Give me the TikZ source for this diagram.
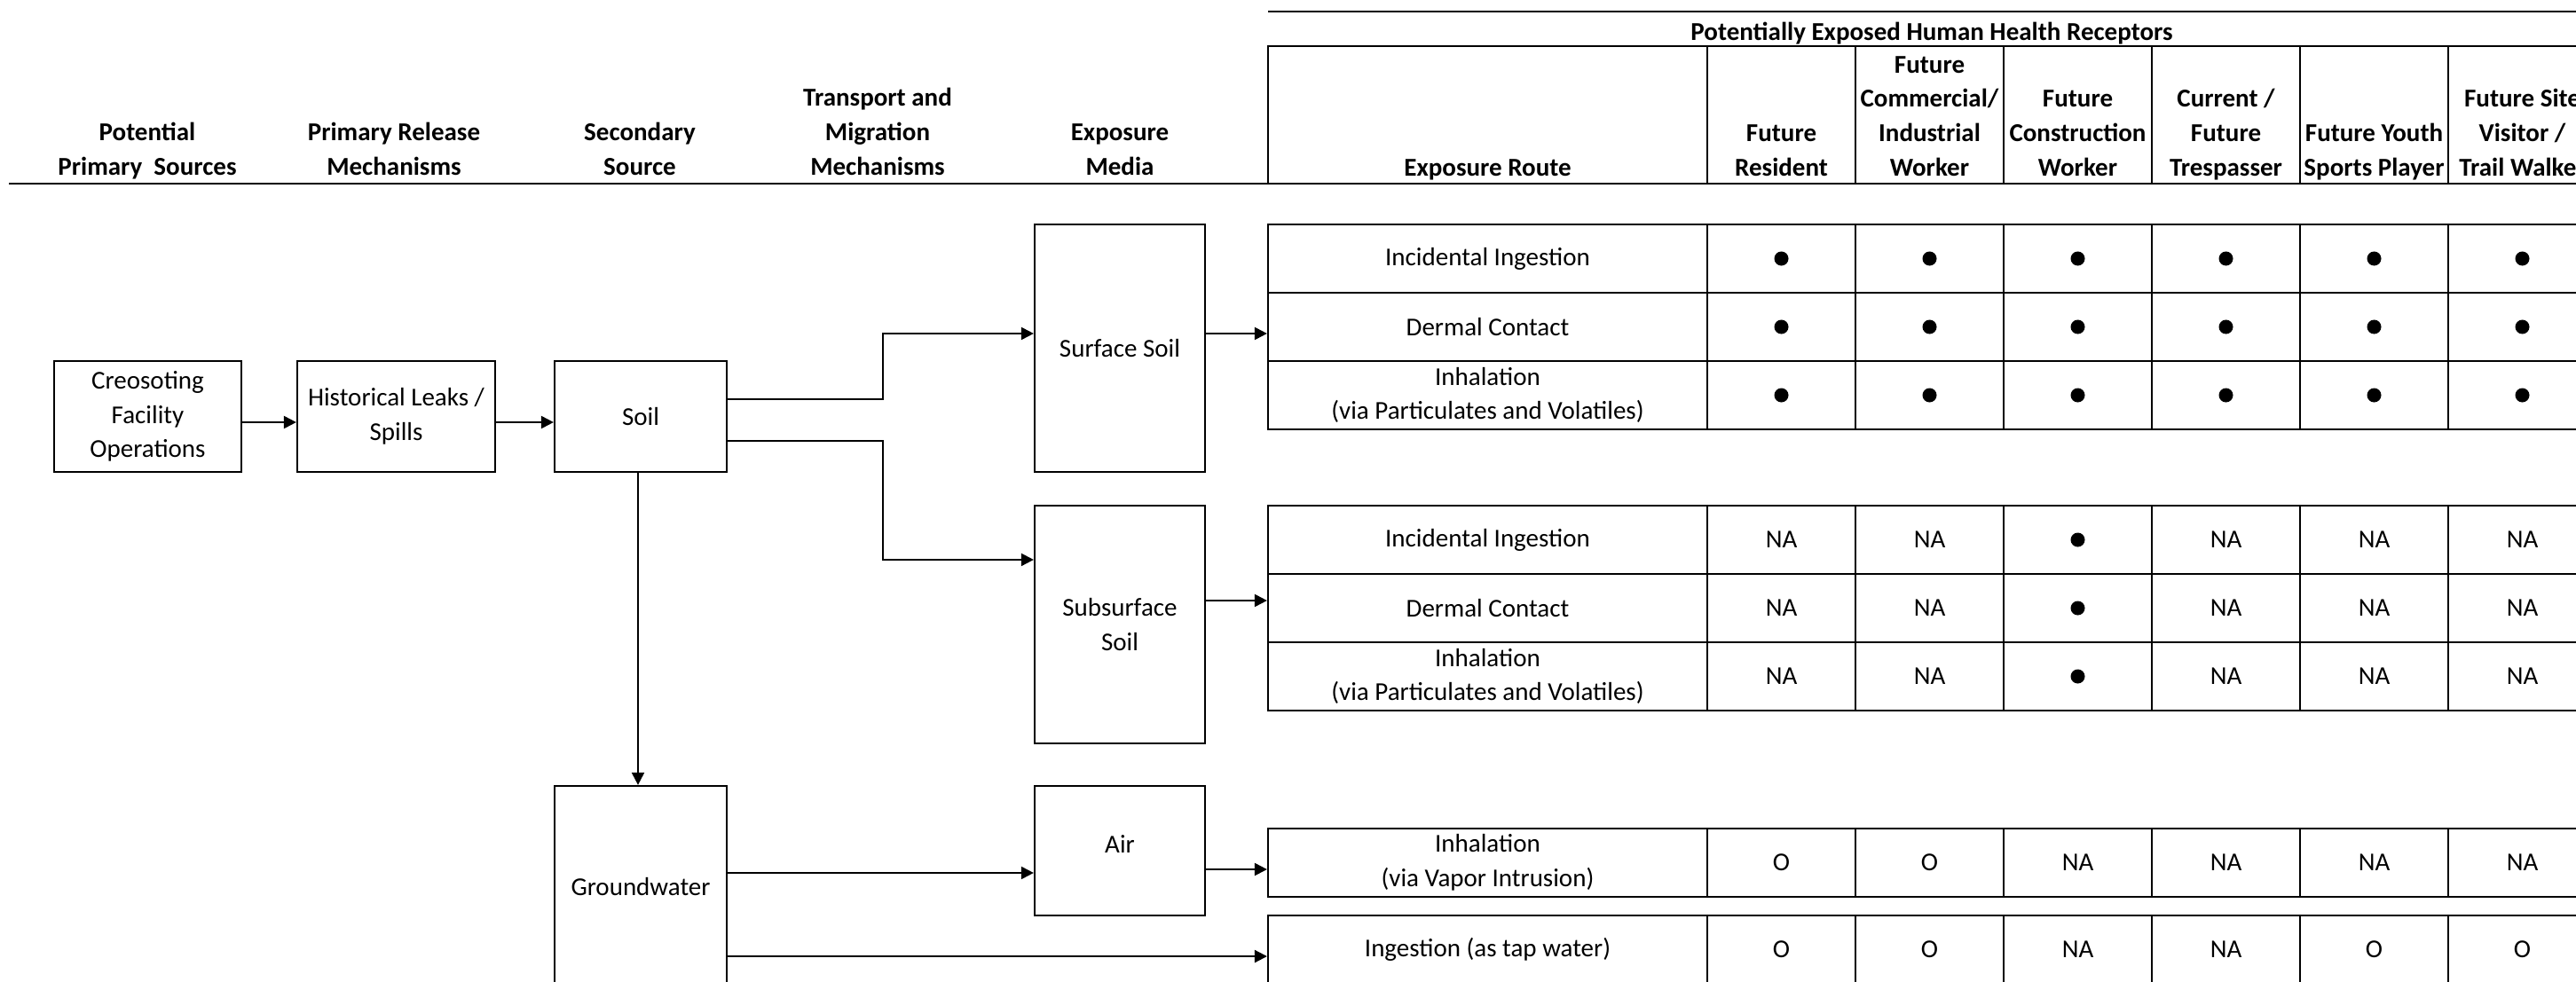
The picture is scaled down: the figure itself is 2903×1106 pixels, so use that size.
\documentclass[tikz,border=0pt]{standalone}
\usepackage{fontspec}
\setmainfont{Carlito}
\usetikzlibrary{arrows.meta}

% stacked header text whose baseline is that of its last line
\newcommand\hdrlines[1]{\begin{tabular}[b]{@{}c@{}}#1\end{tabular}}
% solid marker for a complete exposure pathway
\newcommand\fulldot{\tikz\fill circle[radius=0.08cm];}
% one exposure-route row: name, y, route text, six receptor entries
\newcommand\exprow[4]{%
  \node[routecell] (#1) at (1676.5,#2) {#3};
  \foreach \v [count=\k] in {#4}
    {\node[valcell] (#1-\k) at ({1924+167*(\k-0.5)},#2) {\v};}%
}

\begin{document}
\begin{tikzpicture}[x=0.01cm,y=-0.01cm,
  font=\fontsize{8.25}{10.95}\selectfont,
  box/.style={draw, line width=0.6pt, align=center, inner sep=0pt},
  cell/.style={draw, line width=0.55pt, align=center, inner sep=0pt, minimum height=0.77cm},
  routecell/.style={cell, minimum width=4.95cm},
  valcell/.style={cell, minimum width=1.67cm},
  hcell/.style={draw, line width=0.55pt, inner sep=0pt, minimum height=1.55cm},
  hdr/.style={font=\fontsize{8.25}{10.95}\selectfont\bfseries, anchor=base, inner sep=0pt},
  arr/.style={line width=0.6pt, -{Triangle[length=4pt,width=4pt]}},
  rule/.style={line width=0.6pt}]
\useasboundingbox (0,0) rectangle (2903,1106);
\clip (0,0) rectangle (2903,1106);

% ---------- receptor header ----------
\draw[rule] (1429,13) -- (2930,13);
\node[hdr] (rechead) at (2177,45) {Potentially Exposed Human Health Receptors};
\draw[rule] (1429,52) -- (2930,52);
\node[hcell, minimum width=4.95cm] (hc0) at (1676.5,129.5) {};
\foreach \k in {1,...,6}
  {\node[hcell, minimum width=1.67cm] (hc\k) at ({1924+167*(\k-0.5)},129.5) {};}
\draw[line width=0.85pt] (10,207) -- (2930,207);

% column headings
\node[hdr] (h1) at (166,197) {\hdrlines{Potential\\Primary\ \ Sources}};
\node[hdr] (h2) at (444,197) {\hdrlines{Primary Release\\Mechanisms}};
\node[hdr] (h3) at (721,197) {\hdrlines{Secondary\\Source}};
\node[hdr] (h4) at (989,197) {\hdrlines{Transport and\\Migration\\Mechanisms}};
\node[hdr] (h5) at (1262,197) {\hdrlines{Exposure\\Media}};
\node[hdr] (t0) at ([yshift=0.1cm]hc0.south) {Exposure Route};
\node[hdr] (t1) at ([yshift=0.1cm]hc1.south) {\hdrlines{Future\\Resident}};
\node[hdr] (t2) at ([yshift=0.1cm]hc2.south) {\hdrlines{Future\\Commercial/\\Industrial\\Worker}};
\node[hdr] (t3) at ([yshift=0.1cm]hc3.south) {\hdrlines{Future\\Construction\\Worker}};
\node[hdr] (t4) at ([yshift=0.1cm]hc4.south) {\hdrlines{Current /\\Future\\Trespasser}};
\node[hdr] (t5) at ([yshift=0.1cm]hc5.south) {\hdrlines{Future Youth\\Sports Player}};
\node[hdr] (t6) at ([yshift=0.1cm]hc6.south) {\hdrlines{Future Site\\Visitor /\\Trail Walker}};

% ---------- sources and media ----------
\node[box, minimum width=2.11cm, minimum height=1.25cm] (creo) at (166.5,469.5) {Creosoting\\Facility\\Operations};
\node[box, minimum width=2.23cm, minimum height=1.25cm] (hist) at (446.5,469.5) {Historical Leaks /\\Spills};
\node[box, minimum width=1.94cm, minimum height=1.25cm] (soil) at (722,469.5) {Soil};
\node[box, minimum width=1.92cm, minimum height=2.79cm] (surf) at (1262,392.5) {Surface Soil};
\node[box, minimum width=1.92cm, minimum height=2.68cm] (subs) at (1262,704) {Subsurface\\Soil};
\node[box, minimum width=1.94cm, minimum height=2.28cm] (gw) at (722,1000) {Groundwater};
\node[box, minimum width=1.92cm, minimum height=1.46cm] (air) at (1262,959) {\raisebox{0.14cm}{Air}};

% ---------- exposure routes ----------
\exprow{b1r1}{291.5}{Incidental Ingestion}{\fulldot,\fulldot,\fulldot,\fulldot,\fulldot,\fulldot}
\exprow{b1r2}{368.5}{Dermal Contact}{\fulldot,\fulldot,\fulldot,\fulldot,\fulldot,\fulldot}
\exprow{b1r3}{445.5}{Inhalation\\(via Particulates and Volatiles)}{\fulldot,\fulldot,\fulldot,\fulldot,\fulldot,\fulldot}

\exprow{b2r1}{608.5}{Incidental Ingestion}{NA,NA,\fulldot,NA,NA,NA}
\exprow{b2r2}{685.5}{Dermal Contact}{NA,NA,\fulldot,NA,NA,NA}
\exprow{b2r3}{762.5}{Inhalation\\(via Particulates and Volatiles)}{NA,NA,\fulldot,NA,NA,NA}

\exprow{b3r1}{972.5}{Inhalation\\(via Vapor Intrusion)}{O,O,NA,NA,NA,NA}

\exprow{b4r1}{1070.5}{Ingestion (as tap water)}{O,O,NA,NA,O,O}

% ---------- connectors ----------
\draw[arr] ([yshift=-0.065cm]creo.east) -- ([yshift=-0.065cm]hist.west);
\draw[arr] ([yshift=-0.065cm]hist.east) -- ([yshift=-0.065cm]soil.west);
\draw[arr] ([yshift=0.195cm]soil.east) -- ++(175,0) |- ([yshift=0.165cm]surf.west);
\draw[arr] ([yshift=-0.275cm]soil.east) -- ++(175,0) |- ([yshift=0.73cm]subs.west);
\draw[arr] ([xshift=-0.03cm]soil.south) -- ([xshift=-0.03cm]gw.north);
\draw[arr] ([yshift=0.165cm]surf.east) -- ([yshift=0.165cm]surf.east -| b1r2.west);
\draw[arr] ([yshift=0.27cm]subs.east) -- ([yshift=0.27cm]subs.east -| b2r2.west);
\draw[arr] ([yshift=0.16cm]gw.east) -- ([yshift=0.16cm]gw.east -| air.west);
\draw[arr] ([yshift=-0.21cm]air.east) -- ([yshift=-0.21cm]air.east -| b3r1.west);
\draw[arr] ([yshift=-0.78cm]gw.east) -- ([yshift=-0.78cm]gw.east -| b4r1.west);
\end{tikzpicture}
\end{document}
